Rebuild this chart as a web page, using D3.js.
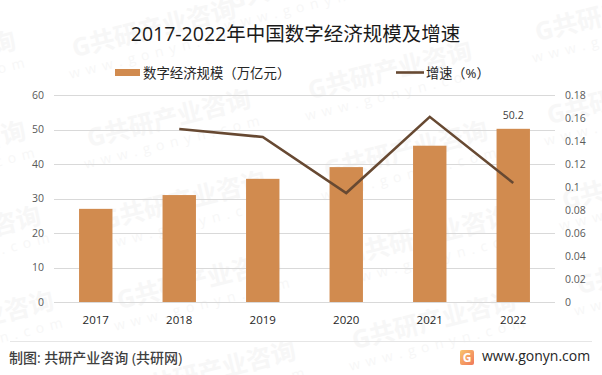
<!DOCTYPE html>
<html>
<head>
<meta charset="utf-8">
<script src="https://cdn.jsdelivr.net/npm/d3@7"></script>
<style>
  html, body { margin: 0; padding: 0; background: #fff; }
  text { font-family: "Open Sans", "Noto Sans CJK SC", sans-serif; }
</style>
</head>
<body>
<div id="chart"></div>
<script>
var years = ["2017", "2018", "2019", "2020", "2021", "2022"];
var scaleValues = [27.0, 31.0, 35.7, 39.1, 45.3, 50.2];
var growthValues = [null, 0.1504, 0.1435, 0.0948, 0.161, 0.1035];
var leftTicks = [0, 10, 20, 30, 40, 50, 60];
var rightTicks = [0, 0.02, 0.04, 0.06, 0.08, 0.1, 0.12, 0.14, 0.16, 0.18];
// watermark centres
var markX = [155, 170, 185, 200, 215, 391, 407, 430, 435, 310, 618, 630, 645, 660, -65, -55, -40, -27];
var markY = [33, 123, 205, 285, 375, 75, 155, 240, 325, -15, 17, 100, 185, 270, 65, 155, 240, 325];

var width = 602, height = 375;
var pad = {left: 54, right: 47, top: 95, bottom: 73};

var svg = d3.select("#chart").append("svg")
    .attr("width", width)
    .attr("height", height)
    .style("display", "block");

var x = d3.scaleBand().domain(years).range([pad.left, width - pad.right]).paddingInner(0.6).paddingOuter(0.3);
var yLeft = d3.scaleLinear().domain([0, 60]).range([height - pad.bottom, pad.top]);
var yRight = d3.scaleLinear().domain([0, 0.18]).range([height - pad.bottom, pad.top]);

// watermark
var marks = svg.append("g").selectAll("g")
    .data(markX)
    .enter()
    .append("g")
    .attr("transform", function (d, i) { return "translate(" + d + "," + markY[i] + ") rotate(-14)"; })
    .attr("fill", "#f7f7f7")
    .attr("text-anchor", "middle");
marks.append("text")
    .text("G共研产业咨询")
    .attr("y", 4)
    .attr("font-size", 25)
    .attr("font-weight", "bold");
marks.append("text")
    .text("www.gonyn.com")
    .attr("y", 24)
    .attr("font-size", 14)
    .attr("letter-spacing", 6);

// grid
svg.append("g").selectAll("line")
    .data(leftTicks)
    .enter()
    .append("line")
    .attr("x1", pad.left)
    .attr("x2", width - pad.right)
    .attr("y1", function (d) { return Math.round(yLeft(d)) + 0.5; })
    .attr("y2", function (d) { return Math.round(yLeft(d)) + 0.5; })
    .attr("stroke", "#d9d9d9");

// bars
svg.append("g").selectAll("rect")
    .data(scaleValues)
    .enter()
    .append("rect")
    .attr("x", function (d, i) { return x(years[i]); })
    .attr("y", function (d) { return yLeft(d); })
    .attr("width", x.bandwidth())
    .attr("height", function (d) { return yLeft(0) - yLeft(d); })
    .attr("fill", "#d18b4f");

// growth line
var growthLine = d3.line()
    .defined(function (d) { return d !== null; })
    .x(function (d, i) { return x(years[i]) + x.bandwidth() / 2; })
    .y(function (d) { return yRight(d); });

svg.append("path")
    .attr("d", growthLine(growthValues))
    .attr("fill", "none")
    .attr("stroke", "#674932")
    .attr("stroke-width", 2.6);

svg.append("text")
    .text("50.2")
    .attr("x", x("2022") + x.bandwidth() / 2)
    .attr("y", yLeft(50.2) - 10)
    .attr("text-anchor", "middle")
    .attr("font-size", 10.5)
    .attr("fill", "#404040");

// axes
var axisLeft = d3.axisLeft(yLeft).tickValues(leftTicks).tickSize(0).tickPadding(10);
var axisRight = d3.axisRight(yRight).tickValues(rightTicks).tickSize(0).tickPadding(10)
    .tickFormat(function (d) { return String(d); });
var axisBottom = d3.axisBottom(x).tickSize(0).tickPadding(14);

svg.append("g").attr("transform", "translate(" + pad.left + ",0)").call(axisLeft)
    .call(function (g) { g.select(".domain").remove(); })
    .selectAll("text").attr("font-size", 10.5).attr("fill", "#595959");
svg.append("g").attr("transform", "translate(" + (width - pad.right) + ",0)").call(axisRight)
    .call(function (g) { g.select(".domain").remove(); })
    .selectAll("text").attr("font-size", 10.5).attr("fill", "#595959");
svg.append("g").attr("transform", "translate(0," + (height - pad.bottom) + ")").call(axisBottom)
    .call(function (g) { g.select(".domain").remove(); })
    .selectAll("text").attr("font-size", 11.5).attr("fill", "#262626");

// title
svg.append("text")
    .text("2017-2022年中国数字经济规模及增速")
    .attr("x", 295.5)
    .attr("y", 41)
    .attr("text-anchor", "middle")
    .attr("font-size", 19.5)
    .attr("fill", "#1a1a1a");

// legend
svg.append("rect").attr("x", 115).attr("y", 69).attr("width", 25).attr("height", 7).attr("fill", "#d18b4f");
svg.append("text").text("数字经济规模（万亿元）").attr("x", 143).attr("y", 77.5).attr("font-size", 13.4).attr("fill", "#262626");
svg.append("line").attr("x1", 396).attr("x2", 424).attr("y1", 72.5).attr("y2", 72.5).attr("stroke", "#674932").attr("stroke-width", 2.6);
svg.append("text").text("增速（%）").attr("x", 426).attr("y", 77.5).attr("font-size", 13.2).attr("fill", "#262626");

// footer
svg.append("line").attr("x1", 10).attr("x2", 592).attr("y1", 341.5).attr("y2", 341.5).attr("stroke", "#e6e6e6");
svg.append("text").text("制图: 共研产业咨询 (共研网)").attr("x", 9).attr("y", 363).attr("font-size", 14).attr("font-weight", 500).attr("fill", "#404040");

var logoGrad = svg.append("defs").append("linearGradient").attr("id", "logoGrad").attr("x1", 0).attr("x2", 1).attr("y1", 0).attr("y2", 1);
logoGrad.append("stop").attr("offset", 0).attr("stop-color", "#f9c56d");
logoGrad.append("stop").attr("offset", 1).attr("stop-color", "#f0785a");
svg.append("rect").attr("x", 460).attr("y", 350).attr("width", 14).attr("height", 15).attr("rx", 2).attr("fill", "url(#logoGrad)");
svg.append("text").text("G").attr("x", 467).attr("y", 362).attr("text-anchor", "middle").attr("font-size", 12).attr("font-weight", "bold").attr("fill", "#fff");
svg.append("text").text("www.gonyn.com").attr("x", 482).attr("y", 361).attr("font-size", 14).attr("fill", "#262626");
</script>
</body>
</html>
